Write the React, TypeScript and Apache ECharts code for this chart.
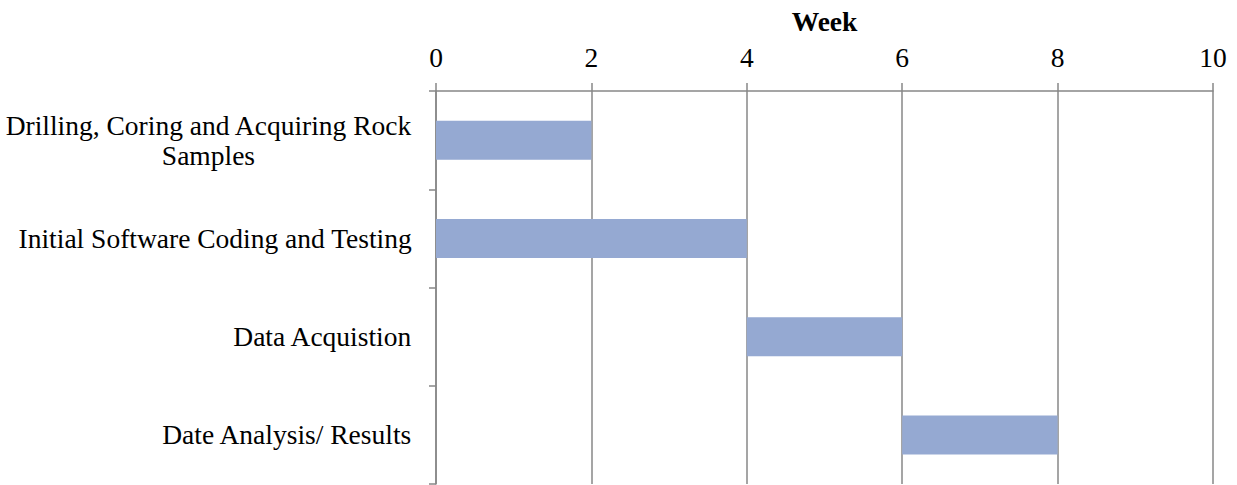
import React, { useEffect, useRef } from "react";
import * as echarts from "echarts";

const categories = [
  "Drilling, Coring and Acquiring Rock\nSamples",
  "Initial Software Coding and Testing",
  "Data Acquistion",
  "Date Analysis/ Results",
];
const startWeeks = [0, 0, 4, 6];
const durationWeeks = [2, 4, 2, 2];
const xAxisTitle = "Week";
const xMin = 0;
const xMax = 10;
const xInterval = 2;

const FONT = "Liberation Serif";
const FS = 27.5;
const AXIS_COLOR = "#878787";

export default function App() {
  const ref = useRef<HTMLDivElement>(null);
  useEffect(() => {
    if (!ref.current) return;
    const chart = echarts.init(ref.current, null, { renderer: "svg" });
    chart.setOption({
      animation: false,
      grid: { left: 436, right: 24, top: 91, bottom: 1, containLabel: false },
      xAxis: {
        type: "value",
        position: "top",
        min: xMin,
        max: xMax,
        interval: xInterval,
        name: xAxisTitle,
        nameLocation: "middle",
        nameGap: 56,
        nameTextStyle: { fontFamily: FONT, fontSize: FS, fontWeight: "bold", color: "#000" },
        axisLine: { show: true, lineStyle: { color: AXIS_COLOR, width: 1.5 } },
        axisTick: { show: true, length: 8, lineStyle: { color: AXIS_COLOR, width: 1.5 } },
        splitLine: { show: true, lineStyle: { color: AXIS_COLOR, width: 1.5 } },
        axisLabel: { fontFamily: FONT, fontSize: FS, color: "#000", margin: 20 },
      },
      yAxis: {
        type: "category",
        inverse: true,
        data: categories,
        axisLine: { show: true, lineStyle: { color: AXIS_COLOR, width: 1.5 } },
        axisTick: { show: true, length: 7, lineStyle: { color: AXIS_COLOR, width: 1.5 } },
        splitLine: { show: false },
        axisLabel: {
          margin: 24,
          formatter: (v: string) =>
            v
              .split("\n")
              .map((l) => `{c|${l}}`)
              .join("\n"),
          rich: {
            c: {
              fontFamily: FONT,
              fontSize: FS,
              color: "#000",
              align: "center",
              lineHeight: 30,
            },
          },
        },
      },
      series: [
        {
          type: "bar",
          stack: "gantt",
          data: startWeeks,
          barWidth: 39,
          itemStyle: { color: "transparent" },
          silent: true,
        },
        {
          type: "bar",
          stack: "gantt",
          data: durationWeeks,
          barWidth: 39,
          itemStyle: { color: "#95a9d2" },
          silent: true,
        },
      ],
    });
    return () => chart.dispose();
  }, []);
  return (
    <div
      ref={ref}
      style={{ position: "fixed", left: 0, top: 0, width: 1237, height: 485, background: "#fff" }}
    />
  );
}
